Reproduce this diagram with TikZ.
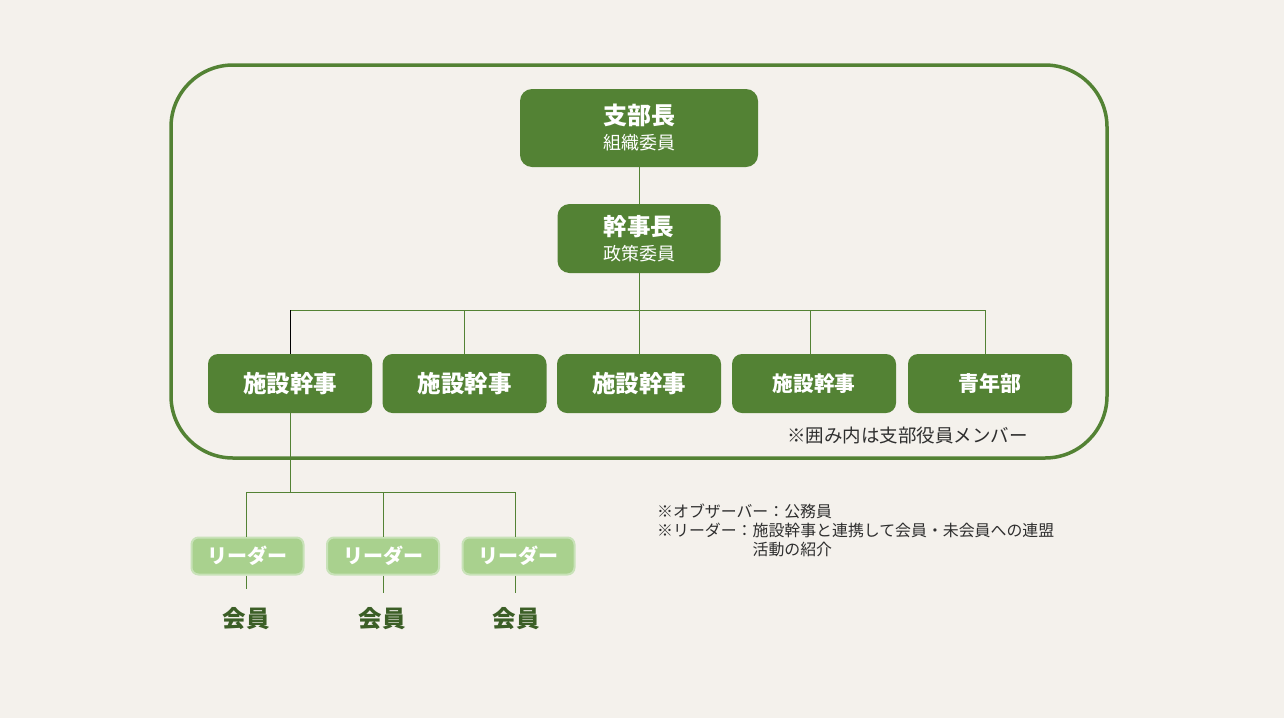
\documentclass[tikz,border=0pt]{standalone}
\usepackage{fontspec}
\setmainfont{Noto Sans CJK JP}
\usetikzlibrary{positioning}
\definecolor{bgcream}{HTML}{F4F1EC}
\definecolor{leafgreen}{HTML}{538234}
\definecolor{palegreen}{HTML}{A9D18E}
\definecolor{paleedge}{HTML}{C8E2B8}
\definecolor{darkleaf}{HTML}{3B5E26}
\definecolor{notegray}{HTML}{2E2E2E}
\begin{document}
\begin{tikzpicture}[x=1pt,y=-1pt,
  officer/.style={fill=leafgreen,rounded corners=12pt,text=white,align=center,inner sep=0pt,font=\fontsize{18}{25}\selectfont},
  unit/.style={fill=leafgreen,rounded corners=10pt,text=white,inner sep=0pt,minimum width=164pt,minimum height=59pt,font=\fontsize{23.5}{26}\selectfont\bfseries},
  leader/.style={fill=palegreen,draw=paleedge,line width=2pt,rounded corners=7pt,text=white,inner sep=0pt,minimum width=112pt,minimum height=37pt,font=\fontsize{20}{22}\selectfont\bfseries},
  member/.style={text=darkleaf,inner sep=0pt,font=\fontsize{23.5}{26}\selectfont\bfseries},
  link/.style={color=leafgreen,line width=0.8pt},
  note/.style={text=notegray,inner sep=0pt,align=left,font=\fontsize{15.9}{19}\selectfont}]
\useasboundingbox[fill=bgcream] (0,0) rectangle (1284,718);

% frame of the branch officers
\node[draw=leafgreen,line width=3.5pt,rounded corners=62pt,minimum width=936pt,minimum height=393pt] (frame) at (639,261.5) {};

\node[officer,minimum width=238pt,minimum height=78pt] (shibucho) at (639,128) {{\fontsize{24}{25}\selectfont\bfseries 支部長}\\組織委員};
\node[officer,minimum width=163pt,minimum height=69pt] (kanjicho) at (639,238.5) {{\fontsize{23.5}{25}\selectfont\bfseries 幹事長}\\政策委員};

\node[unit] (s1) at (290,383.5) {施設幹事};
\node[unit] (s2) at (464.5,383.5) {施設幹事};
\node[unit] (s3) at (639,383.5) {施設幹事};
\node[unit,font=\fontsize{20.7}{24}\selectfont\bfseries] (s4) at (814,383.5) {施設幹事};
\node[unit,font=\fontsize{21}{24}\selectfont\bfseries] (seinen) at (990,383.5) {青年部};

\node[note,anchor=west,font=\fontsize{18.5}{20}\selectfont] (inner) at (787,435) {※囲み内は支部役員メンバー};

% officers
\draw[link] (shibucho) -- (kanjicho);
\coordinate (bus) at (639,310);
\coordinate (busleft) at (290,310);
\coordinate (busfour) at (810,310);
\coordinate (busright) at (985,310);
\draw[link] (kanjicho) -- (bus);
\draw[link] (busleft) -- (busright);
\draw[color=black,line width=0.8pt] (busleft) -- (s1.north);
\draw[link] (s2.north |- bus) -- (s2.north);
\draw[link] (bus) -- (s3.north);
\draw[link] (busfour) -- (busfour |- s4.north);
\draw[link] (busright) -- (busright |- seinen.north);

% leaders
\node[leader] (l1) at (247.5,556) {リーダー};
\node[leader] (l2) at (383,556) {リーダー};
\node[leader] (l3) at (518.5,556) {リーダー};
\coordinate (lbus) at (290,492);
\coordinate (lbusleft) at (246,492);
\coordinate (lbusright) at (515,492);
\draw[link] (s1) -- (lbus);
\draw[link] (lbusleft) -- (lbusright);
\draw[link] (lbusleft) -- (lbusleft |- l1.north);
\draw[link] (l2.north |- lbus) -- (l2.north);
\draw[link] (lbusright) -- (lbusright |- l3.north);

\node[member] (m1) at (246,619) {会員};
\node[member] (m2) at (382,619) {会員};
\node[member] (m3) at (516,619) {会員};
\draw[link] (l1.south -| lbusleft) -- ++(0,13);
\draw[link] (l2.south) -- ++(0,17);
\draw[link] (l3.south -| lbusright) -- ++(0,17);

\node[note,anchor=north west] (notes) at (657,504) {※オブザーバー：公務員\\※リーダー：施設幹事と連携して会員・未会員への連盟\\\phantom{※リーダー：}活動の紹介};
\end{tikzpicture}
\end{document}
